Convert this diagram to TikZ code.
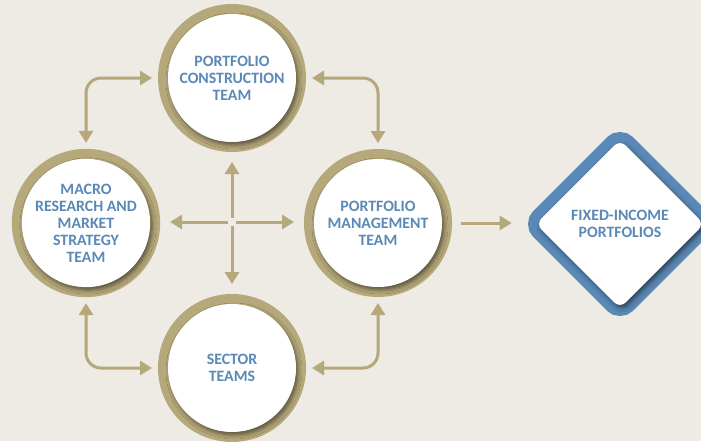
\documentclass[tikz,border=0pt]{standalone}
\usepackage{fontspec}
\setmainfont{Carlito}
\usetikzlibrary{arrows.meta,shapes.geometric,shadows.blur}
\definecolor{paper}{RGB}{237,235,227}
\definecolor{khaki}{RGB}{181,168,122}
\definecolor{steel}{RGB}{91,137,183}
\tikzset{
  >={Triangle[length=3.6mm,width=4.2mm]},
  team/.style={circle, minimum size=38.4mm, inner sep=0pt, outer sep=3mm, fill=white,
    preaction={draw=khaki, line width=6mm},
    blur shadow={shadow xshift=0.6mm, shadow yshift=-0.9mm, shadow blur radius=1.2mm, shadow opacity=50},
    text=steel, font=\fontsize{13.5}{14.5}\selectfont\bfseries, align=center},
  goal/.style={diamond, aspect=1, minimum width=53mm, minimum height=53mm, inner sep=0pt,
    outer sep=3mm, rounded corners=2.4mm, fill=white,
    preaction={draw=steel, line width=6.6mm},
    blur shadow={shadow xshift=0.6mm, shadow yshift=-0.9mm, shadow blur radius=1.2mm, shadow opacity=50},
    text=steel, font=\fontsize{13.5}{14.5}\selectfont\bfseries, align=center},
  link/.style={draw=khaki, line width=0.9mm}
}
\begin{document}
\begin{tikzpicture}[x=0.3mm, y=-0.3mm]
\fill[paper] (0,0) rectangle (701,441);
\useasboundingbox (0,0) rectangle (701,441);
\node[team] (pct) at (232,78){PORTFOLIO\\CONSTRUCTION\\TEAM};
\node[team] (mrt) at (86,223){MACRO\\RESEARCH AND\\MARKET\\STRATEGY\\TEAM};
\node[team] (pmt) at (378,223){PORTFOLIO\\MANAGEMENT\\TEAM};
\node[team] (st) at (232,368){SECTOR\\TEAMS};
\node[goal] (fip) at (620,224){FIXED-INCOME\\PORTFOLIOS};
\coordinate (hub) at (232,222);
\draw[link, ->, shorten <=1.2mm, shorten >=3mm](hub) -- (hub |- pct.south);
\draw[link, ->, shorten <=1.2mm, shorten >=3mm](hub) -- (hub |- st.north);
\draw[link, ->, shorten <=1.2mm, shorten >=3mm](hub) -- (hub -| mrt.east);
\draw[link, ->, shorten <=1.2mm, shorten >=3mm](hub) -- (hub -| pmt.west);
\draw[link, <->, rounded corners=4.5mm, shorten <=1.8mm, shorten >=1.8mm](mrt.north) |- (pct.west);
\draw[link, <->, rounded corners=4.5mm, shorten <=1.8mm, shorten >=1.8mm](pct.east) -| (pmt.north);
\draw[link, <->, rounded corners=4.5mm, shorten <=1.8mm, shorten >=1.8mm](pmt.south) |- (st.east);
\draw[link, <->, rounded corners=4.5mm, shorten <=1.8mm, shorten >=1.8mm](mrt.south) |- (st.west);
\draw[link, ->, shorten <=2.7mm, shorten >=3mm](pmt.east) -- (pmt.east -| fip.west);
\end{tikzpicture}
\end{document}
